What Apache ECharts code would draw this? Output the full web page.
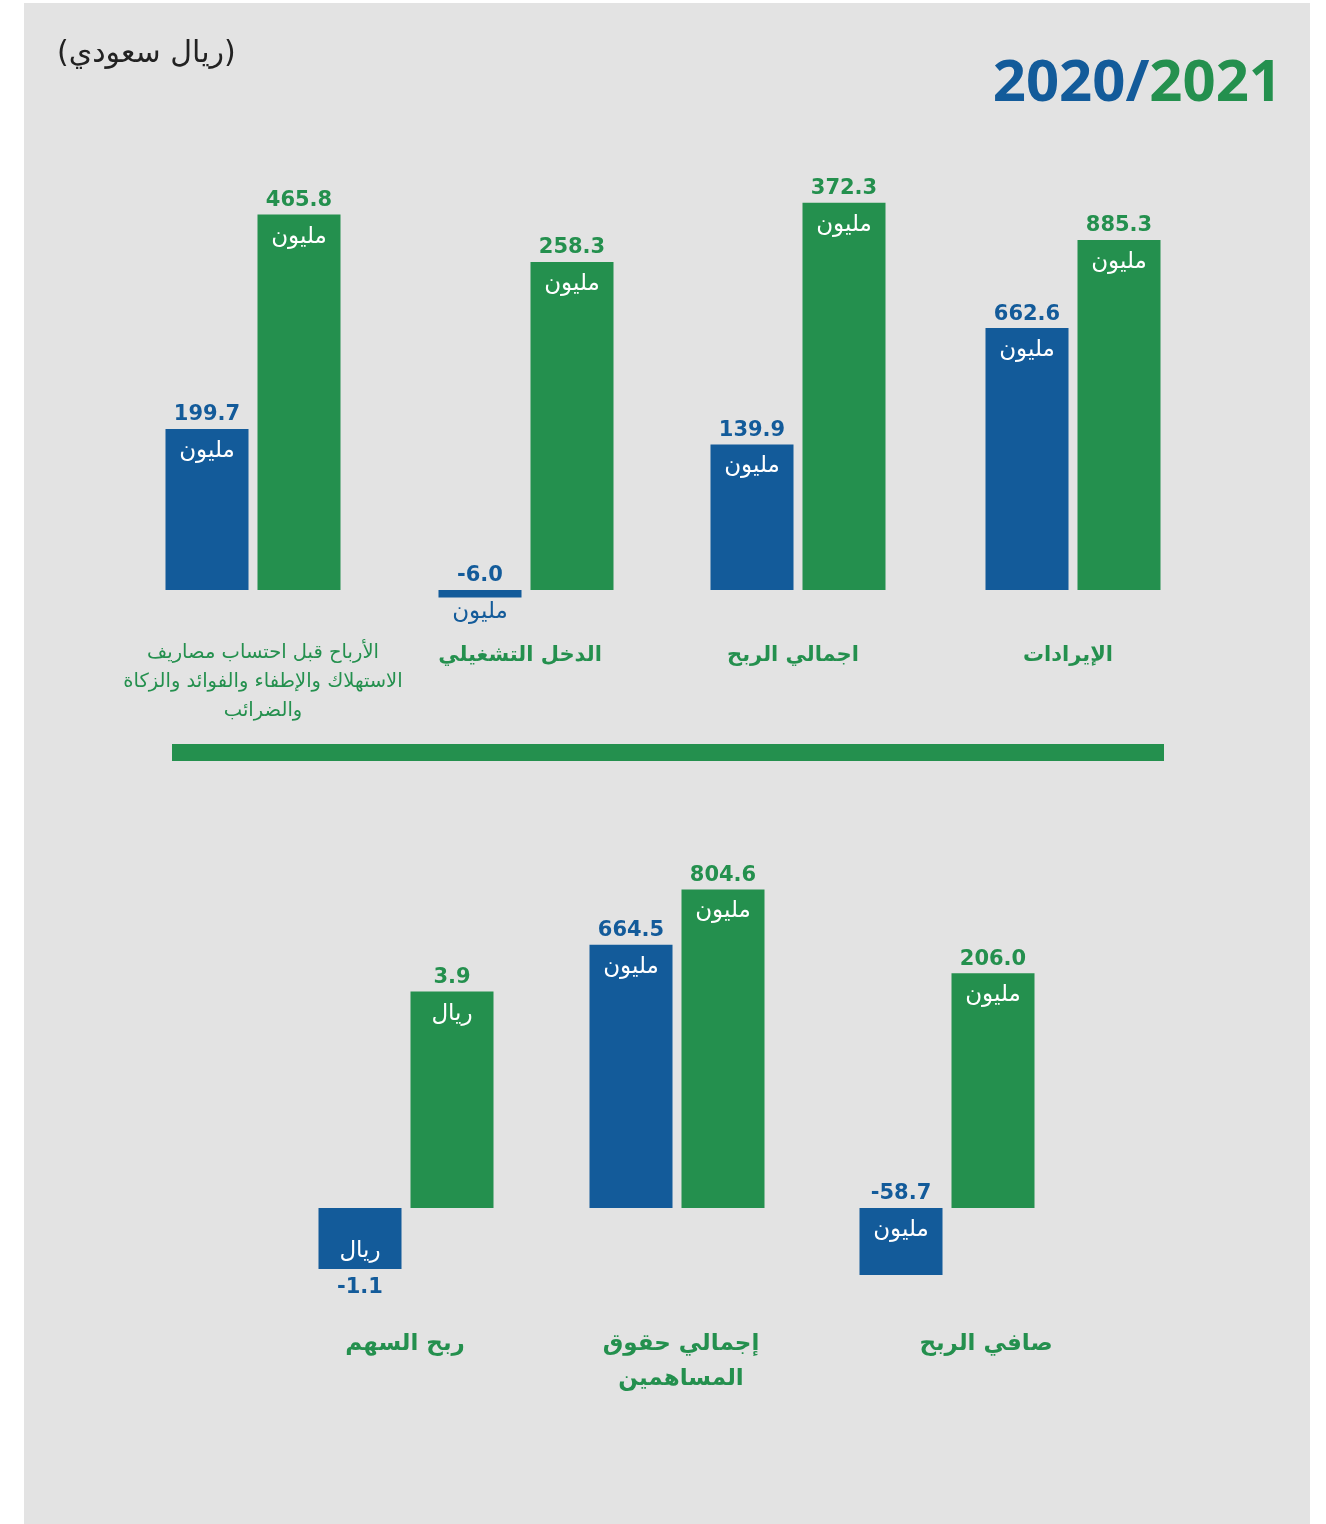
<!DOCTYPE html>
<html>
<head>
<meta charset="utf-8">
<script src="https://cdn.jsdelivr.net/npm/echarts@6/dist/echarts.min.js"></script>
<style>
  html, body { margin: 0; padding: 0; background: #ffffff; }
  #chart { width: 1326px; height: 1524px; }
</style>
</head>
<body>
<div id="chart"></div>
<script>
// ---------- data ----------
const topCategories = ['الإيرادات', 'اجمالي الربح', 'الدخل التشغيلي', 'الأرباح قبل احتساب مصاريف\nالاستهلاك والإطفاء والفوائد والزكاة\nوالضرائب'];
const top2020 = [662.6, 139.9, -6.0, 199.7];
const top2021 = [885.3, 372.3, 258.3, 465.8];
const topUnits = ['مليون', 'مليون', 'مليون', 'مليون'];

const bottomCategories = ['صافي الربح', 'إجمالي حقوق\nالمساهمين', 'ربح السهم'];
const bottom2020 = [-58.7, 664.5, -1.1];
const bottom2021 = [206.0, 804.6, 3.9];
const bottomUnits = ['مليون', 'مليون', 'ريال'];

const years = ['2020', '2021'];
const unitLabel = '(ريال سعودي)';

// ---------- layout / style ----------
const BLUE = '#135b9a';
const GREEN = '#24904e';
const BG = '#e3e3e3';
const NUM_FONT = "'DejaVu Sans', sans-serif";
const AR_FONT = "'DejaVu Sans', sans-serif";

const topCenters = [1073, 798, 526, 253];
const topScale = [0.3953, 1.04, 1.27, 0.806];      // px per unit (infographic, per group)
const topNameShift = [-5, -5, -6, 10];
const bottomCenters = [947, 677, 406];
const bottomScale = [1.14, 0.396, 55.5];
const bottomNameShift = [39, 4, -1];
const flipBottom = [false, false, true];

const GW = 184;
const panels = [
  { cats: topCategories, a: top2020, b: top2021, units: topUnits, centers: topCenters, scale: topScale,
    shift: topNameShift, flip: [false, false, false, false], top: 160, above: 430, below: 50, nameGap: -2, nameSize: 21 },
  { cats: bottomCategories, a: bottom2020, b: bottom2021, units: bottomUnits, centers: bottomCenters, scale: bottomScale,
    shift: bottomNameShift, flip: flipBottom, top: 800, above: 408, below: 92, nameGap: 27, nameSize: 23 }
];

const grids = [], xAxes = [], yAxes = [], series = [];

function richFor(color, unitColor) {
  return {
    v: { fontFamily: NUM_FONT, fontWeight: 'bold', fontSize: 21, color: color, lineHeight: 36, align: 'center' },
    u: { fontFamily: AR_FONT, fontSize: 23, color: unitColor, lineHeight: 36, align: 'center' }
  };
}

function itemFor(value, color, unit, flip) {
  const txt = value.toFixed(1);
  const tiny = Math.abs(value) < 10 && value < 0 && !flip;
  const unitColor = tiny ? color : '#ffffff';
  let label;
  if (flip) {
    label = {
      show: true, position: 'insideBottom', distance: 0, offset: [0, 36],
      formatter: '{u|' + unit + '}\n{v|' + txt + '}',
      rich: richFor(color, unitColor)
    };
  } else {
    label = {
      show: true, position: 'insideTop', distance: 0, offset: [0, -32],
      formatter: '{v|' + txt + '}\n{u|' + unit + '}',
      rich: richFor(color, unitColor)
    };
  }
  return { value: value, itemStyle: { color: color }, label: label };
}

let gi = 0;
panels.forEach(function (p) {
  p.cats.forEach(function (cat, i) {
    const s = p.scale[i];
    grids.push({ left: p.centers[i] - GW / 2, width: GW, top: p.top, height: p.above + p.below, containLabel: false });
    const isLong = cat.split('\n').length > 2;
    const dx = p.shift[i];
    xAxes.push({
      type: 'category', gridIndex: gi, data: years,
      axisLine: { show: false, onZero: true }, axisTick: { show: false }, axisLabel: { show: false },
      name: cat, nameLocation: 'middle', nameGap: p.nameGap,
      nameTextStyle: {
        fontFamily: AR_FONT, fontWeight: isLong ? 'normal' : 'bold',
        fontSize: isLong ? 19.5 : p.nameSize, lineHeight: isLong ? 29 : 35, color: GREEN,
        align: 'center', verticalAlign: 'top',
        padding: dx >= 0 ? [0, 0, 0, 2 * dx] : [0, -2 * dx, 0, 0]
      }
    });
    yAxes.push({
      type: 'value', gridIndex: gi, show: false,
      min: -p.below / s, max: p.above / s, splitLine: { show: false }
    });
    series.push({
      type: 'bar', xAxisIndex: gi, yAxisIndex: gi, barWidth: 83,
      data: [itemFor(p.a[i], BLUE, p.units[i], p.flip[i]), itemFor(p.b[i], GREEN, p.units[i], false)],
      animation: false, silent: true
    });
    gi++;
  });
});

const chart = echarts.init(document.getElementById('chart'), null, { renderer: 'canvas' });
chart.setOption({
  backgroundColor: '#ffffff',
  animation: false,
  graphic: [
    { type: 'rect', z: -10, shape: { x: 24, y: 3, width: 1286, height: 1530 }, style: { fill: BG } },
    { type: 'rect', z: 1, shape: { x: 172, y: 744, width: 992, height: 17 }, style: { fill: GREEN } },
    { type: 'text', z: 5, style: {
        text: '{a|2020/}{b|2021}', x: 1282, y: 84, align: 'right', verticalAlign: 'middle',
        rich: {
          a: { fontFamily: "'Open Sans', sans-serif", fontWeight: 'bold', fontSize: 58, fill: BLUE, color: BLUE },
          b: { fontFamily: "'Open Sans', sans-serif", fontWeight: 'bold', fontSize: 58, fill: GREEN, color: GREEN }
        } } },
    { type: 'text', z: 5, style: {
        text: unitLabel, x: 57, y: 54, align: 'left', verticalAlign: 'middle',
        font: "30px 'DejaVu Sans', sans-serif", fill: '#222222' } }
  ],
  grid: grids,
  xAxis: xAxes,
  yAxis: yAxes,
  series: series
});
</script>
</body>
</html>
